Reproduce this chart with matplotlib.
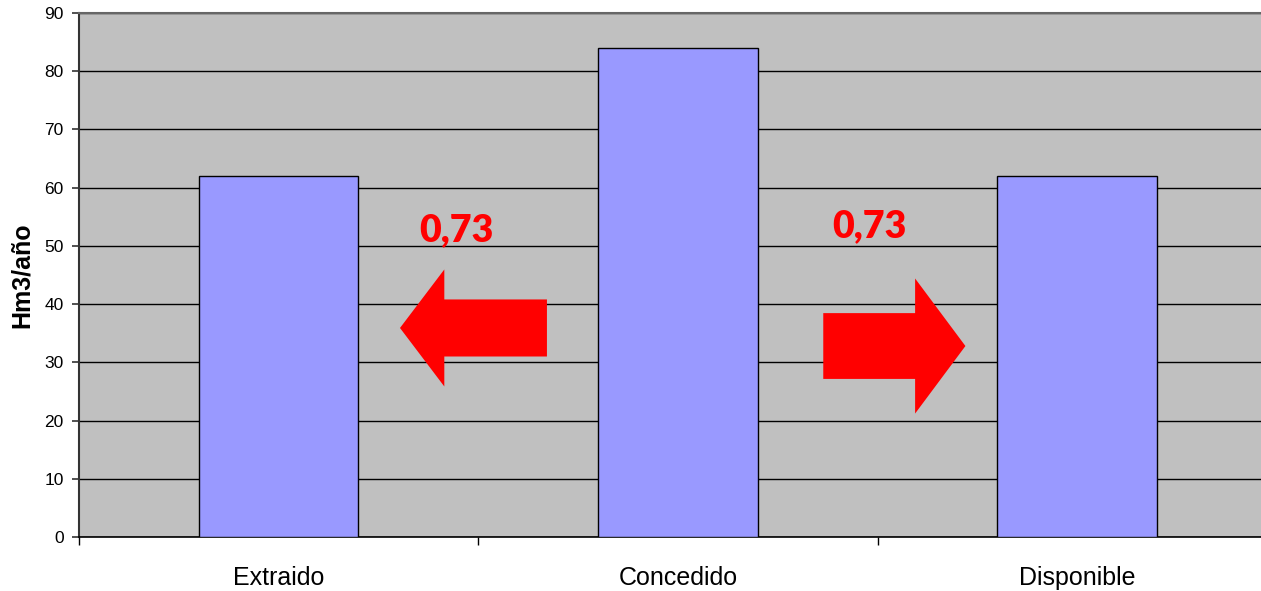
"""Bar chart of extracted, granted and available volumes (Hm3/year)."""

from matplotlib import pyplot
from matplotlib.patches import FancyArrow
from matplotlib.ticker import FixedLocator, NullFormatter
import numpy

# Chart data.
categories = ['Extraido', 'Concedido', 'Disponible']
values = [62, 84, 62]
ratio_labels = ['0,73', '0,73']

# Set default font for the figure.
pyplot.rc('font', family='Liberation Sans', size=12)

fig = pyplot.figure(figsize=(12.61, 5.91), dpi=100)
ax = fig.add_axes([0.0626, 0.0914, 0.950, 0.8866])
ax.set_facecolor('#C0C0C0')

x = numpy.arange(len(categories))
ax.bar(x, values, width=0.4, color='#9999FF', edgecolor='black',
       linewidth=1.0, zorder=3)

# Horizontal grid lines.
ax.set_ylim(0, 90)
ax.set_yticks(numpy.arange(0, 91, 10))
ax.yaxis.grid(True, color='black', linewidth=1.0, zorder=1)
ax.set_axisbelow(True)
ax.tick_params(axis='y', direction='out', length=5, width=1.2, pad=6,
               labelsize=12.5, color='#333333')
ax.set_ylabel('Hm3/año', fontsize=18, fontweight='bold')
ax.yaxis.set_label_coords(-0.038, 0.5)

# Ticks between categories, labels at category centres.
ax.set_xlim(-0.5, len(categories) - 0.5)
ax.xaxis.set_major_locator(FixedLocator(numpy.arange(-0.5, len(categories), 1.0)))
ax.xaxis.set_major_formatter(NullFormatter())
ax.xaxis.set_minor_locator(FixedLocator(x))
ax.set_xticklabels(categories, minor=True)
ax.tick_params(axis='x', which='major', direction='out', length=6, width=1.0)
ax.tick_params(axis='x', which='minor', length=0, pad=21, labelsize=18)

ax.spines['left'].set_color('#333333')
ax.spines['left'].set_linewidth(1.5)
ax.spines['bottom'].set_color('black')
ax.spines['bottom'].set_linewidth(1.2)
ax.spines['top'].set_color('#666666')
ax.spines['top'].set_linewidth(1.5)
ax.spines['right'].set_visible(False)

# Red arrows showing the ratio between granted volume and the others.
arrow_kw = dict(color='red', linewidth=0, length_includes_head=True, zorder=4)
ax.add_patch(FancyArrow(0.672, 35.9, -0.368, 0.0, width=9.8,
                        head_width=20.1, head_length=0.111, **arrow_kw))
ax.add_patch(FancyArrow(1.364, 32.8, 0.356, 0.0, width=11.3,
                        head_width=23.2, head_length=0.126, **arrow_kw))
ax.text(0.446, 52.7, ratio_labels[0], color='red', fontsize=27,
        fontweight='heavy', family='Lato', ha='center', va='center', zorder=5)
ax.text(1.479, 53.4, ratio_labels[1], color='red', fontsize=27,
        fontweight='heavy', family='Lato', ha='center', va='center', zorder=5)

fig.savefig('out.png', dpi=100)
